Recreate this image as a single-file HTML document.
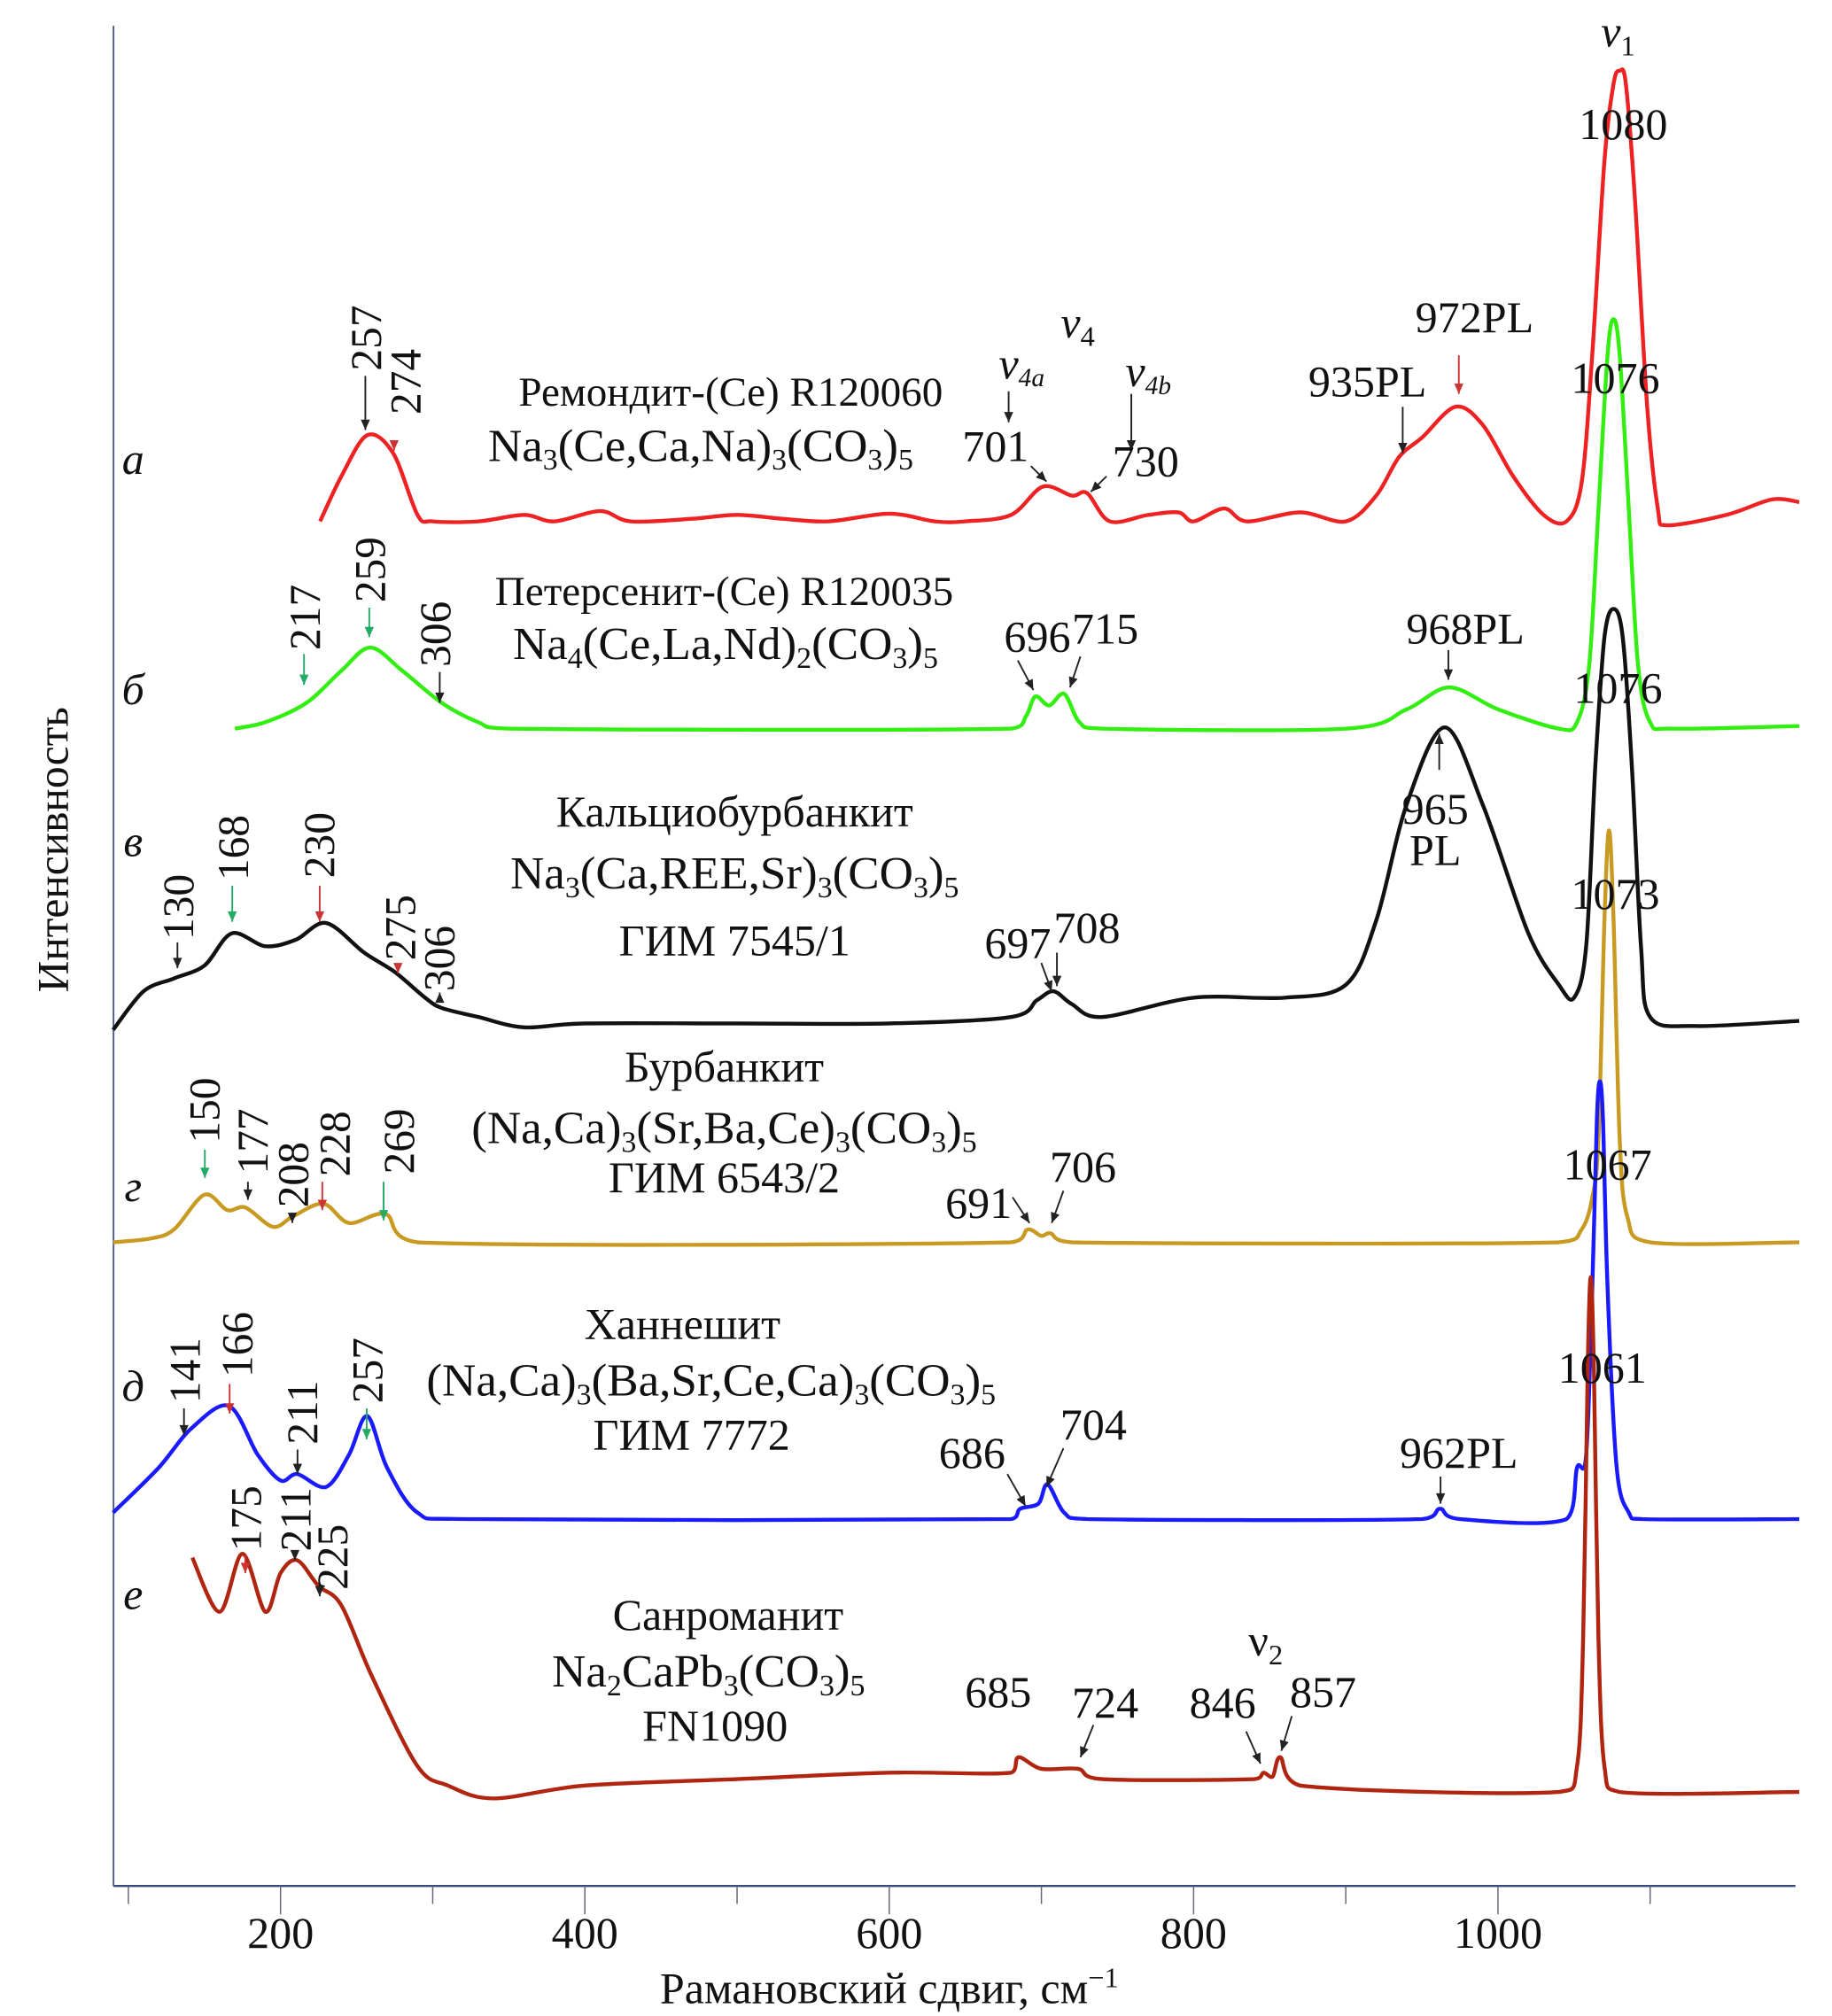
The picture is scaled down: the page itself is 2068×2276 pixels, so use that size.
<!DOCTYPE html>
<html><head><meta charset="utf-8"><style>
html,body{margin:0;padding:0;background:#fff}
svg{display:block}
text{font-family:"Liberation Serif",serif;fill:#111}
</style></head><body>
<svg id="chart" width="2068" height="2276" viewBox="0 0 1404 1566" preserveAspectRatio="none" xmlns="http://www.w3.org/2000/svg">
<g id="axes"></g>
<g id="series"></g>
<g id="labels"></g>
</svg>
<script>
// x-axis ticks
const tickValues = [100,200,300,400,500,600,700,800,900,1000,1100];
const tickLabels = ["200","400","600","800","1000"];
// spectra data (wavenumber, relative intensity)
const wnA = [226,240,257,274,290,300,330,360,380,410,430,470,500,530,560,600,630,650,680,701,720,730,745,770,790,800,820,835,870,900,920,935,950,972,990,1010,1030,1045,1055,1062,1070,1076,1080,1084,1090,1098,1105,1110,1150,1180,1198];
const inA = [0,35,67,53,5,0,0,5,0,8,0,2,5,2,0,6,0,0,5,27,20,22,0,5,7,0,10,0,7,0,20,50,65,89,75,35,5,0,30,130,280,340,350,340,250,90,10,-3,5,17,15];
const wnB = [170,190,217,240,259,280,306,330,350,680,690,696,705,715,725,740,900,940,968,1000,1040,1052,1060,1066,1072,1076,1080,1086,1092,1100,1115,1198];
const inB = [0,5,20,45,63,45,20,5,0,0,10,25,18,27,5,0,0,15,32,15,0,5,50,170,290,318,290,170,50,5,0,2];
const wnC = [90,110,130,150,168,190,210,230,255,275,295,306,330,360,400,500,600,680,697,708,720,740,800,860,900,920,940,965,990,1020,1040,1050,1058,1064,1070,1076,1082,1088,1094,1100,1130,1198];
const inC = [-5,25,35,45,70,60,65,78,55,40,20,12,5,-3,0,0,0,5,18,25,15,5,20,20,30,80,170,230,170,70,30,20,60,200,300,322,300,200,60,5,-2,2];
const wnD = [90,115,130,150,165,177,195,208,228,245,269,290,680,691,700,706,720,1040,1055,1062,1066,1070,1073,1076,1080,1085,1100,1198];
const inD = [0,3,10,37,25,27,12,20,30,15,22,0,0,10,5,7,0,0,10,35,80,250,320,250,80,20,0,0];
const wnE = [90,120,141,166,185,200,211,230,245,257,270,290,320,680,686,698,704,715,730,950,962,975,1045,1052,1058,1062,1065,1067,1069,1072,1078,1086,1095,1198];
const inE = [5,40,70,88,50,30,35,25,50,80,40,5,0,0,8,12,27,5,0,0,8,0,0,40,50,180,310,340,310,180,40,5,0,0];
const wnF = [142,160,175,190,200,211,225,240,260,290,310,340,400,500,600,680,685,700,724,740,840,846,852,857,870,1040,1052,1056,1059,1061,1063,1066,1070,1080,1198];
const inF = [182,140,185,140,170,180,160,145,90,20,5,-5,5,10,15,15,27,18,18,10,10,15,12,27,5,0,20,120,330,400,330,120,20,0,0];

const NS="http://www.w3.org/2000/svg";
const X0=87,X1=1376,AY=1465;
function xs(v){return 215+(v-200)*1.16625;}
function mk(tag,attrs,parent){const e=document.createElementNS(NS,tag);for(const k in attrs)e.setAttribute(k,attrs[k]);parent.appendChild(e);return e;}
const axes=document.getElementById('axes'),ser=document.getElementById('series'),lab=document.getElementById('labels');

let e=mk('line',{x1:X0,y1:20,x2:X0,y2:AY,stroke:'#4a5a8a','stroke-width':1.3},axes);


e=mk('line',{x1:X0,y1:AY,x2:X1,y2:AY,stroke:'#3a4a7a','stroke-width':1.6},axes);


tickValues.forEach(v=>{
  const major=v%200===0;
  const t=mk('line',{x1:xs(v),y1:AY,x2:xs(v),y2:AY+(major?22:14),stroke:'#667','stroke-width':1},axes);
  
  
});
tickLabels.forEach(s=>{
  const t=mk('text',{x:xs(+s),y:AY+48,'font-size':34,'text-anchor':'middle'},axes);t.textContent=s;
  
  
});
e=mk('text',{x:xs(600),y:1556,'font-size':34,'text-anchor':'middle'},axes);
e.innerHTML='Рамановский сдвиг, см<tspan font-size="22" baseline-shift="55%">−1</tspan>';


e=mk('text',{x:0,y:0,'font-size':34,'text-anchor':'middle',transform:'translate(52,660) rotate(-90)'},axes);
e.textContent='Интенсивность';



function series(wn,it,base,color,name){
  const P=wn.map((w,i)=>[xs(w),base-it[i]]);
  let d='M'+P[0][0].toFixed(1)+','+P[0][1].toFixed(1);
  for(let i=0;i<P.length-1;i++){
    const p0=P[Math.max(0,i-1)],p1=P[i],p2=P[i+1],p3=P[Math.min(P.length-1,i+2)];
    const t=0.16;
    let c1x=p1[0]+(p2[0]-p0[0])*t,c1y=p1[1]+(p2[1]-p0[1])*t;
    let c2x=p2[0]-(p3[0]-p1[0])*t,c2y=p2[1]-(p3[1]-p1[1])*t;
    c1x=Math.min(Math.max(c1x,p1[0]),p2[0]);c2x=Math.min(Math.max(c2x,p1[0]),p2[0]);
    d+=`C${c1x.toFixed(1)},${c1y.toFixed(1)} ${c2x.toFixed(1)},${c2y.toFixed(1)} ${p2[0].toFixed(1)},${p2[1].toFixed(1)}`;
  }
  const p=mk('path',{d:d,fill:'none',stroke:color,'stroke-width':3,'stroke-linejoin':'round'},ser);
  
  
}
series(wnA,inA,405,'#ee2222','spectrum-a-remondite');
series(wnB,inB,566,'#33ee11','spectrum-b-petersenite');
series(wnC,inC,795,'#111111','spectrum-v-calciobyrbankite');
series(wnD,inD,965,'#c99a22','spectrum-g-burbankite');
series(wnE,inE,1180,'#1a1aff','spectrum-d-khanneshite');
series(wnF,inF,1392,'#b02510','spectrum-e-sanromanite');

function txt(x,y,s,size,anchor,extra){const t=mk('text',Object.assign({x:x,y:y,'font-size':size||34,'text-anchor':anchor||'middle'},extra||{}),lab);t.innerHTML=s;return t;}
function arrow(x1,y1,x2,y2,col){
  const g=mk('g',{},lab);
  mk('line',{x1:x1,y1:y1,x2:x2,y2:y2,stroke:col||'#222','stroke-width':1.3},g);
  const a=Math.atan2(y2-y1,x2-x1),L=8,W=3.5;
  const bx=x2-L*Math.cos(a),by=y2-L*Math.sin(a);
  mk('polygon',{points:`${x2},${y2} ${bx-W*Math.sin(a)},${by+W*Math.cos(a)} ${bx+W*Math.sin(a)},${by-W*Math.cos(a)}`,fill:col||'#222'},g);
  return g;
}
function rot(x,y,s){return txt(0,0,s,34,'start',{transform:`translate(${x},${y}) rotate(-90)`});}
const sub=(s)=>`<tspan font-size="23" baseline-shift="-30%">${s}</tspan>`;

// panel letters
[['a',368],['б',547],['в',665],['г',933],['д',1088],['е',1250]].forEach(([l,y])=>{
  const t=txt(102,y,l,34,'middle',{'font-style':'italic'});
  
  
});

// a
txt(560,315,'Ремондит-(Ce) R120060',32);
txt(537,358,'Na'+sub('3')+'(Ce,Ca,Na)'+sub('3')+'(CO'+sub('3')+')'+sub('5'),36);
rot(292,288,'257');arrow(280,292,280,334);
rot(322,322,'274');arrow(302,344,302,350,'#c33');
txt(1240,36,'<tspan font-style="italic">v</tspan><tspan font-size="22" baseline-shift="-30%">1</tspan>',34);
txt(1244,108,'1080',34);
txt(1130,258,'972PL',34);arrow(1118,276,1118,306,'#c33');
txt(1048,308,'935PL',34);arrow(1075,316,1075,352);
txt(1238,305,'1076',34);
txt(826,262,'<tspan font-style="italic">v</tspan><tspan font-size="22" baseline-shift="-30%">4</tspan>',34);
txt(783,294,'<tspan font-style="italic">v</tspan><tspan font-size="20" baseline-shift="-30%" font-style="italic">4a</tspan>',34);arrow(773,304,773,328);
txt(880,300,'<tspan font-style="italic">v</tspan><tspan font-size="20" baseline-shift="-30%" font-style="italic">4b</tspan>',34);arrow(867,306,867,350);
txt(763,358,'701',34);arrow(790,362,802,374);
txt(878,370,'730',34);arrow(848,370,836,382);
// б
txt(555,470,'Петерсенит-(Ce) R120035',32);
txt(556,512,'Na'+sub('4')+'(Ce,La,Nd)'+sub('2')+'(CO'+sub('3')+')'+sub('5'),36);
rot(245,505,'217');arrow(233,508,233,532,'#2a6');
rot(295,468,'259');arrow(283,472,283,495,'#2a6');
rot(345,518,'306');arrow(337,522,337,546);
txt(795,506,'696',34);txt(847,500,'715',34);arrow(780,513,792,536);arrow(828,510,820,534);
txt(1123,500,'968PL',34);arrow(1110,505,1110,528);
txt(1240,546,'1076',34);
// в
txt(563,642,'Кальциобурбанкит',34);
txt(563,690,'Na'+sub('3')+'(Ca,REE,Sr)'+sub('3')+'(CO'+sub('3')+')'+sub('5'),36);
txt(563,742,'ГИМ 7545/1',34);
rot(148,730,'130');arrow(136,732,136,752);
rot(190,684,'168');arrow(178,688,178,716,'#2a6');
rot(256,682,'230');arrow(245,688,245,716,'#c33');
rot(318,746,'275');arrow(305,748,305,756,'#c33');
rot(348,770,'306');arrow(337,772,337,771);
txt(780,744,'697',34);txt(833,732,'708',34);arrow(798,748,806,770);arrow(810,740,810,766);
txt(1100,640,'965',34);txt(1100,672,'PL',34);arrow(1103,598,1103,570);
txt(1238,706,'1073',34);
// г
txt(555,840,'Бурбанкит',34);
txt(555,888,'(Na,Ca)'+sub('3')+'(Sr,Ba,Ce)'+sub('3')+'(CO'+sub('3')+')'+sub('5'),36);
txt(555,926,'ГИМ 6543/2',34);
rot(168,888,'150');arrow(157,893,157,915,'#2a6');
rot(205,912,'177');arrow(190,918,190,932);
rot(236,938,'208');arrow(224,942,224,950);
rot(268,914,'228');arrow(247,918,247,940,'#c33');
rot(317,912,'269');arrow(294,918,294,948,'#2a6');
txt(750,946,'691',34);arrow(776,930,789,950);
txt(830,918,'706',34);arrow(815,925,806,950);
txt(1232,916,'1067',34);
// д
txt(523,1040,'Ханнешит',34);
txt(545,1084,'(Na,Ca)'+sub('3')+'(Ba,Sr,Ce,Ca)'+sub('3')+'(CO'+sub('3')+')'+sub('5'),36);
txt(530,1126,'ГИМ 7772',34);
rot(153,1090,'141');arrow(141,1094,141,1115);
rot(193,1070,'166');arrow(176,1075,176,1098,'#c33');
rot(243,1122,'211');arrow(228,1126,228,1145);
rot(293,1090,'257');arrow(281,1094,281,1118,'#2a6');
txt(745,1140,'686',34);arrow(772,1145,786,1170);
txt(838,1118,'704',34);arrow(815,1125,802,1155);
txt(1118,1140,'962PL',34);arrow(1104,1147,1104,1168);
txt(1228,1074,'1061',34);
// е
txt(558,1266,'Санроманит',34);
txt(543,1310,'Na'+sub('2')+'CaPb'+sub('3')+'(CO'+sub('3')+')'+sub('5'),36);
txt(548,1352,'FN1090',34);
rot(200,1205,'175');arrow(188,1208,188,1222,'#c33');
rot(238,1205,'211');arrow(226,1208,226,1212);
rot(266,1235,'225');arrow(245,1238,245,1240);
txt(970,1286,'<tspan>ν</tspan><tspan font-size="22" baseline-shift="-30%">2</tspan>',34);
txt(765,1326,'685',34);
txt(847,1334,'724',34);arrow(838,1340,828,1365);
txt(937,1334,'846',34);arrow(955,1345,966,1370);
txt(1014,1326,'857',34);arrow(990,1333,982,1360);
</script>
</body></html>
